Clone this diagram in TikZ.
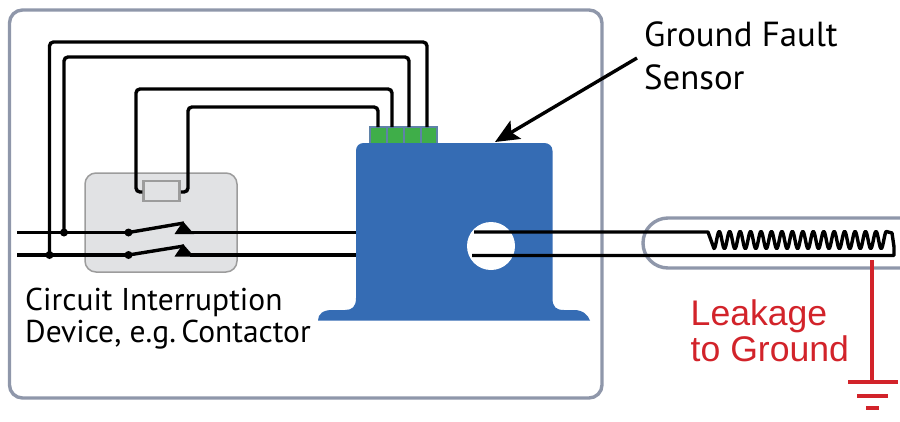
\documentclass[tikz,border=0pt]{standalone}
\usepackage{fontspec}
\setmainfont{PT Sans}
\newfontfamily\arialfont{Liberation Sans}
\usetikzlibrary{arrows.meta,calc}
\definecolor{panelc}{HTML}{8F97AA}
\definecolor{greyfill}{HTML}{E1E2E4}
\definecolor{greyline}{HTML}{9C9C9C}
\definecolor{bodyc}{HTML}{356CB4}
\definecolor{termc}{HTML}{3FAE49}
\definecolor{termline}{HTML}{5F82A8}
\definecolor{redc}{HTML}{D2232A}
\tikzset{
  wire/.style={line width=3.4pt,black},
  cwire/.style={wire,rounded corners=4pt},
  dotn/.style={circle,fill=black,inner sep=0pt,minimum size=8pt},
  term/.style={rectangle,draw=termline,line width=1.2pt,fill=termc,inner sep=0pt,minimum width=17pt,minimum height=17pt},
  tip/.style={fill=black,draw=none},
  lab/.style={anchor=base west,inner sep=0pt,font=\fontsize{34.8}{38}\selectfont},
  lab2/.style={anchor=base west,inner sep=0pt,font=\fontsize{31.5}{36}\selectfont},
  redlab/.style={anchor=base west,inner sep=0pt,text=redc,font=\arialfont\fontsize{35.6}{40}\selectfont},
  redw/.style={line width=3.4pt,redc},
}
\begin{document}
\begin{tikzpicture}[x=1pt,y=-1pt]
\useasboundingbox (0,0) rectangle (900,421);
% panel
\draw[panelc,line width=3.4pt,rounded corners=13pt] (9.5,10) rectangle (602,398);
% contactor box
\node[draw=greyline,line width=1.5pt,fill=greyfill,rounded corners=11pt,inner sep=0pt,minimum width=152pt,minimum height=99pt] (contactor) at (161,222.5) {};
\node[draw=greyline,line width=2.5pt,fill=greyfill,inner sep=0pt,minimum width=36pt,minimum height=20pt] (coil) at (161.5,191) {};
% junction and contact dots
\node[dotn] (j2) at (64,232.5) {};
\node[dotn] (j1) at (49.5,255) {};
\node[dotn] (c2) at (128.5,232.5) {};
\node[dotn] (c1) at (128.5,255) {};
% terminals
\node[term] (t1) at (378.5,135.5) {};
\node[term] (t2) at (395.5,135.5) {};
\node[term] (t3) at (412.5,135.5) {};
\node[term,minimum width=16pt] (t4) at (429,135.5) {};
\coordinate (p1) at (378,127);
\coordinate (p2) at (392,127);
\coordinate (p3) at (409,127);
\coordinate (p4) at (427,127);
% control wires
\draw[cwire] (j1.center) -- (49.5,42) -- (427,42) -- (p4);
\draw[cwire] (j2.center) -- (64,57) -- (409,57) -- (p3);
\draw[cwire] (coil.west|-0,192) -- (136,192) -- (136,89) -- (392,89) -- (p2);
\draw[cwire] (coil.east|-0,192) -- (188,192) -- (188,107) -- (378,107) -- (p1);
% line wires and switches
\coordinate (in2) at (17,232.5);
\coordinate (in1) at (17,255);
\coordinate (out2) at (360,232.5);
\coordinate (out1) at (360,255);
\draw[wire] (in2) -- (c2.center);
\draw[wire] (in1) -- (c1.center);
\draw[wire] (c2.center) -- (184,223);
\draw[wire] (c1.center) -- (184,246);
\draw[tip] (183,221.5) -- (194,234) -- (174.5,234) -- cycle;
\draw[tip] (183,244) -- (194,256.5) -- (174.5,256.5) -- cycle;
\draw[wire] (190,232.5) -- (out2);
\draw[wire] (190,255) -- (out1);
% sensor body
\fill[bodyc] (356,151) .. controls (356,146) and (359,143) .. (364,143) -- (544,143) .. controls (549,143) and (552.5,146) .. (552.5,151)
  -- (552.5,298) .. controls (552.5,307) and (556,310) .. (564,310) -- (574,310) .. controls (583,310) and (588,315) .. (590,320.5)
  -- (318,320.5) .. controls (318,314) and (323,310) .. (332,310) -- (345,310) .. controls (352,310) and (356,307) .. (356,298) -- cycle;
\node[circle,fill=white,inner sep=0pt,minimum size=48pt] (hole) at (491,246) {};
\coordinate (sensortop) at (495,142);
% load capsule
\draw[panelc,line width=3.4pt,rounded corners=25pt] (900,218) -- (643,218) -- (643,268) -- (900,268);
% load wires
\coordinate (h2) at (474,232);
\coordinate (h1) at (472,255.5);
\coordinate (gndjoin) at (894,255.5);
\draw[wire,line join=round] (h2) -- (708,232) -- 
  plot[domain=0:16.5,samples=331,smooth] ({714+\x*10.45},{240+8.5*cos(\x*360)})
  -- (892,233) -- (894,247) -- (gndjoin) -- (h1);
% ground
\coordinate (g0) at (872,260);
\coordinate (g1) at (872,382);
\draw[redw] (g0) -- (g1);
\draw[redw] (848,382) -- (898,382);
\draw[redw] (857,396) -- (888,396);
\draw[redw] (866,408) -- (879,408);
% labels
\node[lab] (gfs1) at (644,46) {Ground Fault};
\node[lab] (gfs2) at (644,89) {Sensor};
\node[lab2] (cid1) at (25,310) {Circuit Interruption};
\node[lab2] (cid2) at (25,342.5) {Device, e.g.\,Contactor};
\node[redlab] (lk1) at (690.5,325) {Leakage};
\node[redlab] (lk2) at (690.5,361) {to Ground};
% arrow
\coordinate (arrstart) at (637,58);
\draw[line width=3.4pt,-{Stealth[length=24pt,width=21pt,inset=5pt]}] (arrstart) -- (sensortop);
\end{tikzpicture}
\end{document}
